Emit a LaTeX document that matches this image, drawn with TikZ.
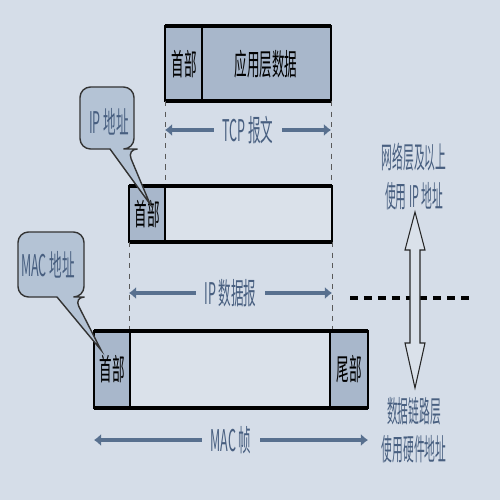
\documentclass[tikz,border=0pt]{standalone}
\usepackage{graphicx}
\usepackage{fontspec}
\newfontfamily\cjk{Noto Sans CJK SC}
\usetikzlibrary{arrows.meta}

\definecolor{bg}{RGB}{213,221,232}
\definecolor{boxmid}{RGB}{168,183,203}
\definecolor{boxlight}{RGB}{218,225,234}
\definecolor{labelc}{RGB}{72,95,128}
\definecolor{arrowc}{RGB}{88,112,143}
\definecolor{callc}{RGB}{180,195,213}

\newcommand\cn[2][0.42]{\scalebox{#1}[1]{#2}}

\tikzset{
  cell/.style={draw=black, line width=0.8pt},
  edge/.style={black, line width=2.6pt},
  txt/.style={font=\cjk\fontsize{17}{18}\selectfont, inner sep=0pt},
  lbl/.style={txt, text=labelc},
  spanlbl/.style={lbl, fill=bg, inner xsep=5pt, inner ysep=2pt},
  span/.style={arrowc, line width=2.4pt, {Latex[length=4pt,width=7pt]}-{Latex[length=4pt,width=7pt]}},
  guide/.style={dashed, black!65, line width=0.5pt},
  callout/.style={draw=black!80, fill=callc, line width=0.8pt},
}

\begin{document}
\begin{tikzpicture}[x=0.02cm, y=-0.02cm]

\fill[bg] (0,0) rectangle (500,500);
\useasboundingbox (0,0) rectangle (500,500);

\coordinate (TL) at (165,26);
\coordinate (TR) at (331,101);
\coordinate (IL) at (129,186);
\coordinate (IR) at (332,242);
\coordinate (ML) at (94,331);
\coordinate (MR) at (368,408);

\filldraw[cell, fill=boxmid] (TL) rectangle (202,101);
\filldraw[cell, fill=boxmid] (202,26) rectangle (TR);
\draw[edge] (TL) -- (331,26);
\draw[edge] (165,101) -- (TR);
\node[txt] (tcphead) at (184,64) {\cn{首部}};
\node[txt] (tcpdata) at (266,64) {\cn{应用层数据}};

\draw[guide] (165,101) -- (165,186);
\draw[guide] (TR) -- (331,186);
\coordinate (tcpa) at (165,130);
\coordinate (tcpb) at (331,130);
\draw[span] (tcpa) -- (tcpb) node[spanlbl, midway] (tcplbl) {\cn{TCP 报文}};

\filldraw[cell, fill=boxmid] (IL) rectangle (165,242);
\filldraw[cell, fill=boxlight] (165,186) rectangle (IR);
\draw[edge] (IL) -- (332,186);
\draw[edge] (129,242) -- (IR);
\node[txt] (iphead) at (147,214) {\cn{首部}};

\draw[guide] (129,242) -- (129,331);
\draw[guide] (IR) -- (332,331);
\coordinate (ipa) at (129,293);
\coordinate (ipb) at (332,293);
\draw[span] (ipa) -- (ipb) node[spanlbl, midway] (iplbl) {\cn{IP 数据报}};

\filldraw[cell, fill=boxmid] (ML) rectangle (130,408);
\filldraw[cell, fill=boxlight] (130,331) rectangle (330,408);
\filldraw[cell, fill=boxmid] (330,331) rectangle (MR);
\draw[edge] (ML) -- (368,331);
\draw[edge] (94,408) -- (MR);
\node[txt] (machead) at (112,369) {\cn{首部}};
\node[txt] (mactail) at (349,369) {\cn{尾部}};

\coordinate (maca) at (94,440);
\coordinate (macb) at (368,440);
\draw[span] (maca) -- (macb) node[spanlbl, midway] (maclbl) {\cn{MAC 帧}};

\draw[callout, rounded corners=6] (110,149) -- (80,149) -- (80,87) -- (134,87) -- (134,149) -- (127,149) [sharp corners] -- (150,204) -- cycle;
\node[lbl] (ipaddr) at (109,122) {\cn{IP 地址}};

\draw[callout, rounded corners=6] (57,297) -- (18,297) -- (18,232) -- (84,232) -- (84,297) -- (74,297) [sharp corners] -- (101,350) -- cycle;
\node[lbl] (macaddr) at (48,265) {\cn{MAC 地址}};

\draw[black, line width=2.8pt, dash pattern=on 4.5pt off 3.4pt] (350,298) -- (470,298);
\filldraw[draw=black!85, fill=boxlight, line width=0.6pt] (415,212) -- (425,250) -- (420,250) -- (420,343) -- (425,343) -- (415,388) -- (405,343) -- (410,343) -- (410,250) -- (405,250) -- cycle;

\node[lbl] (upper1) at (414,157) {\cn[0.36]{网络层及以上}};
\node[lbl] (upper2) at (414,196) {\cn[0.36]{使用 IP 地址}};
\node[lbl] (lower1) at (414,411) {\cn[0.36]{数据链路层}};
\node[lbl] (lower2) at (414,449) {\cn[0.36]{使用硬件地址}};

\end{tikzpicture}
\end{document}
